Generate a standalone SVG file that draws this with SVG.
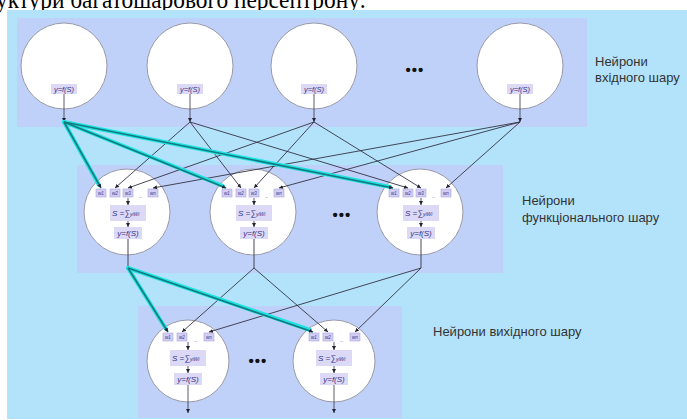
<svg xmlns="http://www.w3.org/2000/svg" width="687" height="420" viewBox="0 0 687 420">
<defs>
<style>
.bg{fill:#b3e3fb}
.panel{fill:#c0d1f9}
.neuron{fill:#ffffff;stroke:#9a9aa8;stroke-width:1}
.lbl{fill:#dcd9f7}
.wbox{fill:#d2cdf3;stroke:#aaa6dc;stroke-width:0.6}
.ft{font-family:"Liberation Sans",Arial,sans-serif;font-style:italic;fill:#35358a}
.cap{font-family:"Liberation Sans",Arial,sans-serif;font-size:13px;fill:#333333}
.wire{stroke:#333344;stroke-width:0.9;fill:none;marker-end:url(#ah)}
.inner{stroke:#333344;stroke-width:0.8;fill:none;marker-end:url(#ah)}
.glow{stroke:#1ee3e3;stroke-width:4;fill:none;stroke-linecap:round}
.core{stroke:#127a7c;stroke-width:1.6;fill:none;marker-end:url(#ah)}
.dots{font-family:"Liberation Sans",Arial,sans-serif;font-size:15px;font-weight:bold;fill:#111111;letter-spacing:1px}
</style>
<marker id="ah" viewBox="0 0 6 6" refX="6" refY="3" markerWidth="4" markerHeight="4" markerUnits="userSpaceOnUse" orient="auto">
<path d="M0,0 L6,3 L0,6 z" fill="#222233"/>
</marker>
</defs>
<rect width="687" height="420" fill="#ffffff"/>
<text x="-4" y="8" font-family="Liberation Serif,Times New Roman,serif" font-size="26" textLength="370" lengthAdjust="spacingAndGlyphs" fill="#000000">уктури багатошарового персептрону:</text>
<rect class="bg" x="7" y="10" width="680" height="409"/>

<rect class="panel" x="17" y="18" width="570" height="109"/>
<rect class="panel" x="77" y="165" width="426" height="108"/>
<rect class="panel" x="138" y="306" width="264" height="112"/>

<!-- input neurons -->
<g id="in1"><circle class="neuron" cx="64" cy="66" r="43"/><rect class="lbl" x="51" y="84" width="26" height="10"/><text class="ft" x="64" y="92" font-size="7.5" text-anchor="middle">y=f(S)</text><line class="inner" x1="64" y1="94" x2="64" y2="122"/></g>
<g id="in2"><circle class="neuron" cx="190" cy="66" r="43"/><rect class="lbl" x="177" y="84" width="26" height="10"/><text class="ft" x="190" y="92" font-size="7.5" text-anchor="middle">y=f(S)</text><line class="inner" x1="190" y1="94" x2="190" y2="122"/></g>
<g id="in3"><circle class="neuron" cx="314" cy="66" r="43"/><rect class="lbl" x="301" y="84" width="26" height="10"/><text class="ft" x="314" y="92" font-size="7.5" text-anchor="middle">y=f(S)</text><line class="inner" x1="314" y1="94" x2="314" y2="122"/></g>
<g id="in4"><circle class="neuron" cx="520" cy="66" r="43"/><rect class="lbl" x="507" y="84" width="26" height="10"/><text class="ft" x="520" y="92" font-size="7.5" text-anchor="middle">y=f(S)</text><line class="inner" x1="520" y1="94" x2="520" y2="122"/></g>
<text class="dots" x="415" y="75" text-anchor="middle">•••</text>
<g id="cap-in"><text class="cap" x="595" y="66">Нейрони</text><text class="cap" x="595" y="82">вхідного шару</text></g>

<!-- hidden neurons -->
<g id="h1">
<circle class="neuron" cx="127" cy="212" r="43"/>
<rect class="wbox" x="96" y="189" width="10" height="8"/><text class="ft" x="101" y="195" font-size="4.5" text-anchor="middle">w1</text>
<rect class="wbox" x="110" y="189" width="10" height="8"/><text class="ft" x="115" y="195" font-size="4.5" text-anchor="middle">w2</text>
<rect class="wbox" x="123" y="189" width="10" height="8"/><text class="ft" x="128" y="195" font-size="4.5" text-anchor="middle">w3</text>
<text class="ft" x="141" y="197" font-size="5" text-anchor="middle">_</text>
<rect class="wbox" x="148" y="189" width="10" height="8"/><text class="ft" x="153" y="195" font-size="4.5" text-anchor="middle">wn</text>
<line class="inner" x1="128" y1="198" x2="128" y2="205"/>
<rect class="lbl" x="110" y="205" width="36" height="16"/><text class="ft" x="112" y="216" font-size="8">S =∑<tspan font-size="5">yiWi</tspan></text>
<line class="inner" x1="128" y1="221" x2="128" y2="227"/>
<rect class="lbl" x="114" y="227" width="28" height="12"/><text class="ft" x="128" y="236" font-size="8" text-anchor="middle">y=f(S)</text>
<line x1="128" y1="239" x2="128" y2="268" stroke="#333344" stroke-width="0.9"/>
</g>
<g id="h2">
<circle class="neuron" cx="253" cy="212" r="43"/>
<rect class="wbox" x="222" y="189" width="10" height="8"/><text class="ft" x="227" y="195" font-size="4.5" text-anchor="middle">w1</text>
<rect class="wbox" x="236" y="189" width="10" height="8"/><text class="ft" x="241" y="195" font-size="4.5" text-anchor="middle">w2</text>
<rect class="wbox" x="249" y="189" width="10" height="8"/><text class="ft" x="254" y="195" font-size="4.5" text-anchor="middle">w3</text>
<text class="ft" x="267" y="197" font-size="5" text-anchor="middle">_</text>
<rect class="wbox" x="274" y="189" width="10" height="8"/><text class="ft" x="279" y="195" font-size="4.5" text-anchor="middle">wn</text>
<line class="inner" x1="254" y1="198" x2="254" y2="205"/>
<rect class="lbl" x="236" y="205" width="36" height="16"/><text class="ft" x="238" y="216" font-size="8">S =∑<tspan font-size="5">yiWi</tspan></text>
<line class="inner" x1="254" y1="221" x2="254" y2="227"/>
<rect class="lbl" x="240" y="227" width="28" height="12"/><text class="ft" x="254" y="236" font-size="8" text-anchor="middle">y=f(S)</text>
<line x1="254" y1="239" x2="254" y2="268" stroke="#333344" stroke-width="0.9"/>
</g>
<g id="h3">
<circle class="neuron" cx="420" cy="212" r="43"/>
<rect class="wbox" x="389" y="189" width="10" height="8"/><text class="ft" x="394" y="195" font-size="4.5" text-anchor="middle">w1</text>
<rect class="wbox" x="403" y="189" width="10" height="8"/><text class="ft" x="408" y="195" font-size="4.5" text-anchor="middle">w2</text>
<rect class="wbox" x="416" y="189" width="10" height="8"/><text class="ft" x="421" y="195" font-size="4.5" text-anchor="middle">w3</text>
<text class="ft" x="434" y="197" font-size="5" text-anchor="middle">_</text>
<rect class="wbox" x="441" y="189" width="10" height="8"/><text class="ft" x="446" y="195" font-size="4.5" text-anchor="middle">wn</text>
<line class="inner" x1="421" y1="198" x2="421" y2="205"/>
<rect class="lbl" x="403" y="205" width="36" height="16"/><text class="ft" x="405" y="216" font-size="8">S =∑<tspan font-size="5">yiWi</tspan></text>
<line class="inner" x1="421" y1="221" x2="421" y2="227"/>
<rect class="lbl" x="407" y="227" width="28" height="12"/><text class="ft" x="421" y="236" font-size="8" text-anchor="middle">y=f(S)</text>
<line x1="421" y1="239" x2="421" y2="268" stroke="#333344" stroke-width="0.9"/>
</g>
<text class="dots" x="342" y="220" text-anchor="middle">•••</text>
<g id="cap-h"><text class="cap" x="522" y="205">Нейрони</text><text class="cap" x="522" y="222">функціонального шару</text></g>

<!-- output neurons -->
<g id="o1">
<circle class="neuron" cx="188" cy="361" r="41"/>
<rect class="wbox" x="163" y="333" width="10" height="8"/><text class="ft" x="168" y="339" font-size="4.5" text-anchor="middle">w1</text>
<rect class="wbox" x="177" y="333" width="10" height="8"/><text class="ft" x="182" y="339" font-size="4.5" text-anchor="middle">w2</text>
<text class="ft" x="196" y="341" font-size="5" text-anchor="middle">_</text>
<rect class="wbox" x="204" y="333" width="10" height="8"/><text class="ft" x="209" y="339" font-size="4.5" text-anchor="middle">wn</text>
<line class="inner" x1="188" y1="342" x2="188" y2="350"/>
<rect class="lbl" x="170" y="350" width="36" height="16"/><text class="ft" x="172" y="361" font-size="8">S =∑<tspan font-size="5">yiWi</tspan></text>
<line class="inner" x1="188" y1="366" x2="188" y2="373"/>
<rect class="lbl" x="174" y="373" width="28" height="12"/><text class="ft" x="188" y="382" font-size="8" text-anchor="middle">y=f(S)</text>
<line class="inner" x1="188" y1="385" x2="188" y2="413"/>
</g>
<g id="o2">
<circle class="neuron" cx="334" cy="361" r="41"/>
<rect class="wbox" x="309" y="333" width="10" height="8"/><text class="ft" x="314" y="339" font-size="4.5" text-anchor="middle">w1</text>
<rect class="wbox" x="323" y="333" width="10" height="8"/><text class="ft" x="328" y="339" font-size="4.5" text-anchor="middle">w2</text>
<text class="ft" x="342" y="341" font-size="5" text-anchor="middle">_</text>
<rect class="wbox" x="350" y="333" width="10" height="8"/><text class="ft" x="355" y="339" font-size="4.5" text-anchor="middle">wn</text>
<line class="inner" x1="334" y1="342" x2="334" y2="350"/>
<rect class="lbl" x="316" y="350" width="36" height="16"/><text class="ft" x="318" y="361" font-size="8">S =∑<tspan font-size="5">yiWi</tspan></text>
<line class="inner" x1="334" y1="366" x2="334" y2="373"/>
<rect class="lbl" x="320" y="373" width="28" height="12"/><text class="ft" x="334" y="382" font-size="8" text-anchor="middle">y=f(S)</text>
<line class="inner" x1="334" y1="385" x2="334" y2="413"/>
</g>
<text class="dots" x="258" y="366" text-anchor="middle">•••</text>
<g id="cap-o"><text class="cap" x="433" y="336">Нейрони вихідного шару</text></g>

<!-- connectors -->
<g id="connectors">
<line class="wire" x1="190" y1="122" x2="115" y2="188"/>
<line class="wire" x1="190" y1="122" x2="241" y2="188"/>
<line class="wire" x1="190" y1="122" x2="408" y2="188"/>
<line class="wire" x1="314" y1="122" x2="128" y2="188"/>
<line class="wire" x1="314" y1="122" x2="254" y2="188"/>
<line class="wire" x1="314" y1="122" x2="421" y2="188"/>
<line class="wire" x1="520" y1="122" x2="153" y2="188"/>
<line class="wire" x1="520" y1="122" x2="279" y2="188"/>
<line class="wire" x1="520" y1="122" x2="446" y2="188"/>
<line class="wire" x1="254" y1="268" x2="182" y2="332"/>
<line class="wire" x1="254" y1="268" x2="328" y2="332"/>
<line class="wire" x1="421" y1="268" x2="209" y2="332"/>
<line class="wire" x1="421" y1="268" x2="355" y2="332"/>
<line class="glow" x1="64" y1="122" x2="99" y2="185"/>
<line class="glow" x1="64" y1="122" x2="223" y2="186"/>
<line class="glow" x1="64" y1="122" x2="390" y2="187"/>
<line class="glow" x1="128" y1="268" x2="166" y2="329"/>
<line class="glow" x1="128" y1="268" x2="310" y2="330"/>
<line class="core" x1="64" y1="122" x2="101" y2="188"/>
<line class="core" x1="64" y1="122" x2="226" y2="188"/>
<line class="core" x1="64" y1="122" x2="393" y2="188"/>
<line class="core" x1="128" y1="268" x2="168" y2="332"/>
<line class="core" x1="128" y1="268" x2="313" y2="332"/>
</g>
</svg>
